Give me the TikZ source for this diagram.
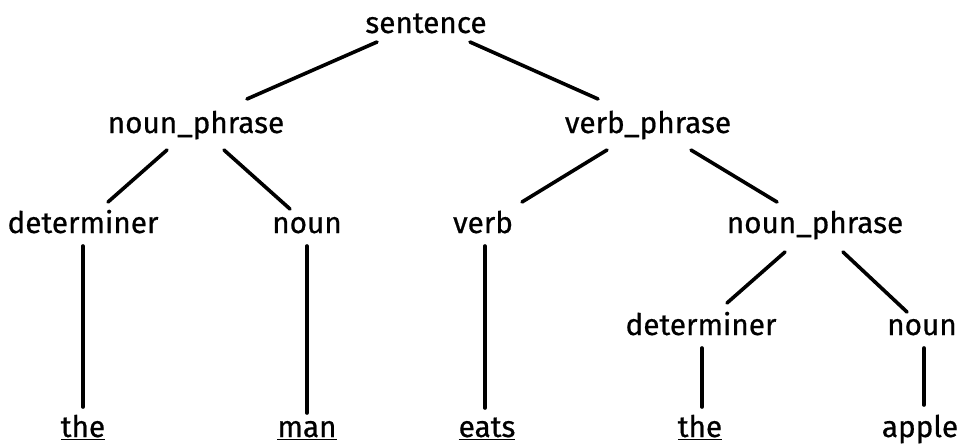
\documentclass[tikz,border=0pt]{standalone}
\usepackage{fontspec}
\setmainfont[FakeBold=0.6,AutoFakeBold=0.6]{Fira Sans}
\begin{document}
\begin{tikzpicture}[x=0.75pt,y=-0.75pt,
  lbl/.style={anchor=base,inner sep=0pt,font=\fontsize{22.3}{25}\selectfont\bfseries},
  br/.style={line width=2.7pt,line cap=round}]
\useasboundingbox (0,0) rectangle (961,447);
% nodes
\node[lbl] (s)    at (426,33)  {sentence};
\node[lbl] (np1)  at (196,133) {noun\_phrase};
\node[lbl] (vp)   at (648,133) {verb\_phrase};
\node[lbl] (det1) at (83,233)  {determiner};
\node[lbl] (n1)   at (307,233) {noun};
\node[lbl] (v)    at (483,233) {verb};
\node[lbl] (np2)  at (815,233) {noun\_phrase};
\node[lbl] (det2) at (701,335) {determiner};
\node[lbl] (n2)   at (922,335) {noun};
\node[lbl] (w1)   at (83,437)  {\underline{the}};
\node[lbl] (w2)   at (307,437) {\underline{man}};
\node[lbl] (w3)   at (487,437) {\underline{eats}};
\node[lbl] (w4)   at (700,437) {\underline{the}};
\node[lbl] (w5)   at (920,437) {apple};
% branches
\draw[br] ([shift={(-49,9)}]s.base)   -- ([shift={(51,-34)}]np1.base);
\draw[br] ([shift={(44,9)}]s.base)    -- ([shift={(-50,-34)}]vp.base);
\draw[br] ([shift={(-29,17)}]np1.base) -- ([shift={(25,-31)}]det1.base);
\draw[br] ([shift={(28,17)}]np1.base)  -- ([shift={(-17,-24)}]n1.base);
\draw[br] ([shift={(-41,17)}]vp.base)  -- ([shift={(39,-31)}]v.base);
\draw[br] ([shift={(43,17)}]vp.base)   -- ([shift={(-38,-31)}]np2.base);
\draw[br] ([shift={(-30,19)}]np2.base) -- ([shift={(26,-32)}]det2.base);
\draw[br] ([shift={(28,19)}]np2.base)  -- ([shift={(-15,-23)}]n2.base);
\draw[br] ([shift={(0,13)}]det1.base)  -- ([shift={(0,-30)}]w1.base);
\draw[br] ([shift={(0,13)}]n1.base)    -- ([shift={(0,-24)}]w2.base);
\draw[br] ([shift={(2,13)}]v.base)     -- ([shift={(-2,-29)}]w3.base);
\draw[br] ([shift={(1,13)}]det2.base)  -- ([shift={(2,-30)}]w4.base);
\draw[br] ([shift={(2,13)}]n2.base)    -- ([shift={(4,-32)}]w5.base);
\end{tikzpicture}
\end{document}
